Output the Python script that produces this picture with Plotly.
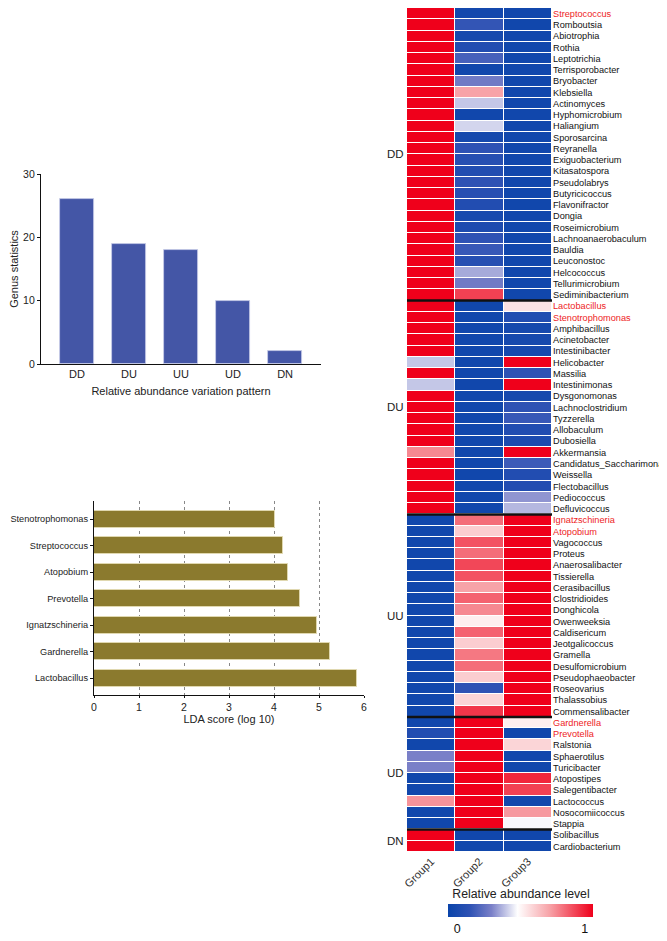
import plotly.graph_objects as go

W, H = 667, 941
FONT = "Liberation Sans, Arial, sans-serif"

# ---------------- data ----------------
pattern_names = ["DD", "DU", "UU", "UD", "DN"]
pattern_counts = [26, 19, 18, 10, 2]

lda_genera = ["Lactobacillus", "Gardnerella", "Ignatzschineria", "Prevotella",
              "Atopobium", "Streptococcus", "Stenotrophomonas"]
lda_scores = [5.85, 5.25, 4.95, 4.58, 4.30, 4.20, 4.02]

group_cols = ["Group1", "Group2", "Group3"]

dd_genera = ["Streptococcus", "Romboutsia", "Abiotrophia", "Rothia", "Leptotrichia",
             "Terrisporobacter", "Bryobacter", "Klebsiella", "Actinomyces", "Hyphomicrobium",
             "Haliangium", "Sporosarcina", "Reyranella", "Exiguobacterium", "Kitasatospora",
             "Pseudolabrys", "Butyricicoccus", "Flavonifractor", "Dongia", "Roseimicrobium",
             "Lachnoanaerobaculum", "Bauldia", "Leuconostoc", "Helcococcus",
             "Tellurimicrobium", "Sediminibacterium"]
dd_g1 = [1.0] * 26
dd_g2 = [0.04, 0.16, 0.05, 0.10, 0.20, 0.03, 0.28, 0.70, 0.40, 0.03,
         0.42, 0.05, 0.15, 0.12, 0.10, 0.15, 0.12, 0.10, 0.06, 0.08,
         0.15, 0.17, 0.12, 0.36, 0.28, 0.88]
dd_g3 = [0.03] * 26

du_genera = ["Lactobacillus", "Stenotrophomonas", "Amphibacillus", "Acinetobacter",
             "Intestinibacter", "Helicobacter", "Massilia", "Intestinimonas", "Dysgonomonas",
             "Lachnoclostridium", "Tyzzerella", "Allobaculum", "Dubosiella", "Akkermansia",
             "Candidatus_Saccharimonas", "Weissella", "Flectobacillus", "Pediococcus",
             "Defluvicoccus"]
du_g1 = [1.0, 1.0, 1.0, 1.0, 1.0, 0.40, 1.0, 0.40, 1.0, 1.0,
         1.0, 1.0, 1.0, 0.75, 1.0, 1.0, 1.0, 1.0, 1.0]
du_g2 = [0.03] * 19
du_g3 = [0.55, 0.10, 0.05, 0.05, 0.05, 1.0, 0.15, 1.0, 0.05, 0.15,
         0.17, 0.10, 0.08, 1.0, 0.18, 0.10, 0.10, 0.33, 0.38]

uu_genera = ["Ignatzschineria", "Atopobium", "Vagococcus", "Proteus", "Anaerosalibacter",
             "Tissierella", "Cerasibacillus", "Clostridioides", "Donghicola", "Owenweeksia",
             "Caldisericum", "Jeotgalicoccus", "Gramella", "Desulfomicrobium",
             "Pseudophaeobacter", "Roseovarius", "Thalassobius", "Commensalibacter"]
uu_g1 = [0.03] * 18
uu_g2 = [0.80, 0.60, 0.85, 0.80, 0.87, 0.85, 0.70, 0.82, 0.75, 0.52,
         0.82, 0.60, 0.78, 0.80, 0.60, 0.15, 0.58, 0.90]
uu_g3 = [1.0] * 18

ud_genera = ["Gardnerella", "Prevotella", "Ralstonia", "Sphaerotilus", "Turicibacter",
             "Atopostipes", "Salegentibacter", "Lactococcus", "Nosocomiicoccus", "Stappia"]
ud_g1 = [0.03, 0.10, 0.03, 0.30, 0.30, 0.03, 0.03, 0.73, 0.03, 0.03]
ud_g2 = [1.0] * 10
ud_g3 = [0.52, 0.03, 0.58, 0.03, 0.03, 0.93, 0.88, 0.03, 0.72, 0.47]

dn_genera = ["Solibacillus", "Cardiobacterium"]
dn_g1 = [1.0, 1.0]
dn_g2 = [0.03, 0.03]
dn_g3 = [0.03, 0.03]

highlighted = ["Streptococcus", "Lactobacillus", "Stenotrophomonas", "Ignatzschineria",
               "Atopobium", "Gardnerella", "Prevotella"]

# ---------------- assemble ----------------
groups = [
    ("DD", dd_genera, dd_g1, dd_g2, dd_g3),
    ("DU", du_genera, du_g1, du_g2, du_g3),
    ("UU", uu_genera, uu_g1, uu_g2, uu_g3),
    ("UD", ud_genera, ud_g1, ud_g2, ud_g3),
    ("DN", dn_genera, dn_g1, dn_g2, dn_g3),
]
genera, z = [], []
group_bounds = []
for name, gen, a, b, c in groups:
    start = len(genera)
    genera += gen
    z += [[a[i], b[i], c[i]] for i in range(len(gen))]
    group_bounds.append((name, start, len(genera)))
rows = list(range(len(genera)))


def px_x(p):
    return p / W


def px_y(p):
    return 1 - p / H


fig = go.Figure()

# bar chart: genus statistics
fig.add_trace(go.Bar(
    x=pattern_names, y=pattern_counts, width=0.65,
    marker=dict(color="#4456a6", line=dict(color="#c8cde8", width=0.8)),
    xaxis="x", yaxis="y", showlegend=False,
))

# LDA bar chart
fig.add_trace(go.Bar(
    x=lda_scores, y=lda_genera, orientation="h", width=0.64,
    marker=dict(color="#8b7a2e", line=dict(color="#e0d8b0", width=1)),
    xaxis="x2", yaxis="y2", showlegend=False,
))
# invisible trace to carry the dashed grid axis
fig.add_trace(go.Scatter(x=[0, 6], y=[None, None], xaxis="x4", yaxis="y2",
                         showlegend=False, hoverinfo="skip"))

# heatmap
colorscale = [[0.0, "#0a44aa"], [0.15, "#2e52b4"], [0.3, "#7a80c8"],
              [0.48, "#ffffff"], [0.7, "#f7a3a8"], [1.0, "#ef001b"]]
fig.add_trace(go.Heatmap(
    z=z, x=[0, 1, 2], y=rows, zmin=0, zmax=1, colorscale=colorscale,
    xgap=1, ygap=1, xaxis="x3", yaxis="y3",
    colorbar=dict(
        orientation="h", x=px_x(513), xanchor="center", y=18 / H, yanchor="bottom",
        len=145, lenmode="pixels", thickness=13, outlinewidth=0, xpad=0, ypad=0,
        tickvals=[0.06, 0.94], ticktext=["0", "1"], ticks="",
        tickfont=dict(size=12.5, color="#111", family=FONT),
        title=dict(text="Relative abundance level", side="top",
                   font=dict(size=12.3, color="#222", family=FONT)),
    ),
))

ticktext = []
for g in genera:
    if g in highlighted:
        ticktext.append('<span style="color:#ee1c25">' + g + "</span>")
    else:
        ticktext.append(g)

shapes = []
for name, s, e in group_bounds[:-1]:
    shapes.append(dict(type="line", xref="x3", yref="y3", x0=-0.5, x1=2.5,
                       y0=e - 0.5, y1=e - 0.5, line=dict(color="#111", width=2.5)))

annotations = []
for name, s, e in group_bounds:
    annotations.append(dict(text=name, xref="x3", yref="y3", x=-0.5, y=(s + e - 1) / 2,
                            xanchor="right", yanchor="middle", xshift=-1, showarrow=False,
                            font=dict(size=11.5, color="#222", family=FONT)))

tick_font = dict(size=10.5, color="#222", family=FONT)
title_font = dict(size=11, color="#222", family=FONT)

fig.update_layout(
    width=W, height=H, margin=dict(l=0, r=0, t=0, b=0, autoexpand=False),
    paper_bgcolor="white", plot_bgcolor="white",
    font=dict(family=FONT, color="#222"),
    bargap=0,
    shapes=shapes, annotations=annotations,
    xaxis=dict(domain=[px_x(33), px_x(313)], anchor="y", range=[-0.69, 4.69],
               automargin=False,
               showline=True, linecolor="#111", linewidth=1.2, ticks="",
               tickfont=dict(size=11, color="#222", family=FONT),
               title=dict(text="Relative abundance variation pattern", standoff=8,
                          font=title_font),
               showgrid=False, zeroline=False),
    yaxis=dict(domain=[px_y(356), px_y(166)], anchor="x", range=[0, 30],
               automargin=False,
               tickvals=[0, 10, 20, 30], ticks="outside", ticklen=3, tickwidth=1,
               tickcolor="#111", showline=True, linecolor="#111", linewidth=1.2,
               tickfont=tick_font, showgrid=False, zeroline=False,
               title=dict(text="Genus statistics", standoff=6, font=title_font)),
    xaxis2=dict(domain=[px_x(86), px_x(356)], anchor="y2", range=[0, 6],
                automargin=False,
                tickvals=[0, 1, 2, 3, 4, 5, 6], ticks="outside", ticklen=2,
                tickcolor="#111", showline=True, linecolor="#111", linewidth=1.2,
                tickfont=tick_font, showgrid=False, zeroline=False,
                title=dict(text="LDA score (log 10)", standoff=3, font=title_font)),
    xaxis4=dict(overlaying="x2", anchor="y2", range=[0, 6], tickvals=[1, 2, 3, 4, 5],
                automargin=False,
                showticklabels=False, ticks="", showgrid=True, gridcolor="#888",
                griddash="3px,3px", gridwidth=0.8, zeroline=False, showline=False,
                layer="below traces"),
    yaxis2=dict(domain=[px_y(687), px_y(493)], anchor="x2", range=[-0.64, 6.68],
                automargin=False, ticklabeloverflow="allow",
                type="category", ticks="outside", ticklen=3, tickcolor="#111",
                showline=True, linecolor="#111", linewidth=1.2,
                tickfont=dict(size=9.2, color="#222", family=FONT),
                showgrid=False, zeroline=False),
    xaxis3=dict(domain=[px_x(399), px_x(544)], anchor="y3", range=[-0.5, 2.5],
                automargin=False,
                tickvals=[0, 1, 2], ticktext=group_cols, tickangle=-45, ticks="",
                tickfont=dict(size=11, color="#333", family=FONT),
                showline=False, showgrid=False, zeroline=False),
    yaxis3=dict(domain=[px_y(844), 1], anchor="x3", range=[74.5, -0.5],
                automargin=False, ticklabeloverflow="allow",
                tickvals=rows, ticktext=ticktext, side="right", ticks="",
                tickfont=dict(size=9.2, color="#111", family=FONT),
                showline=False, showgrid=False, zeroline=False),
)

fig.write_html("out.html")
